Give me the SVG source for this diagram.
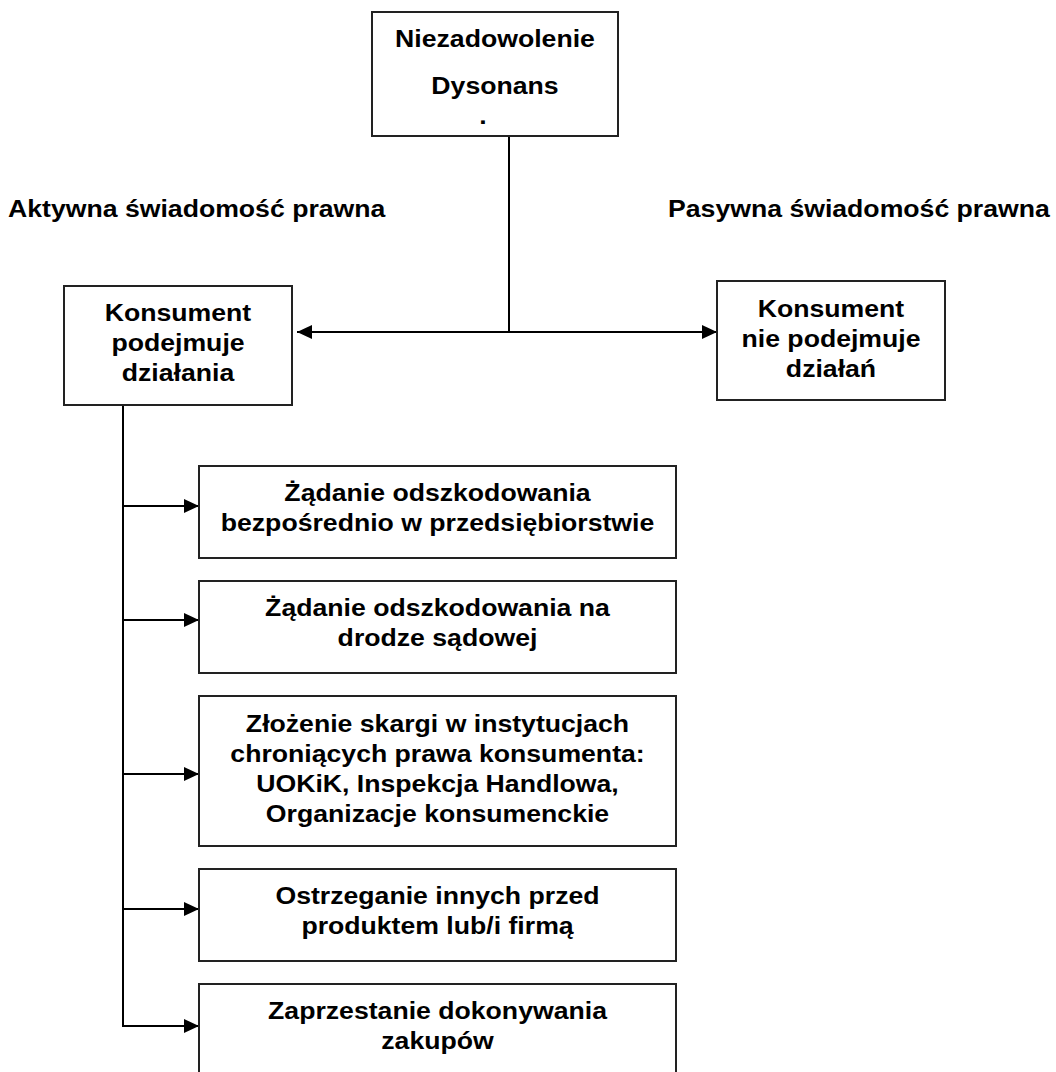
<svg xmlns="http://www.w3.org/2000/svg" width="1056" height="1072" viewBox="0 0 1056 1072">
<style>
  .box { fill: #ffffff; stroke: #222222; stroke-width: 2; }
  .ln { fill: none; stroke: #000000; stroke-width: 2; }
  .t { font-family: "Liberation Sans", Arial, sans-serif; font-weight: bold; font-size: 24px; fill: #000000; }
  .c { text-anchor: middle; }
</style>
<defs>
  <marker id="arr" markerUnits="userSpaceOnUse" markerWidth="16" markerHeight="16" refX="15" refY="7" orient="auto-start-reverse">
    <path d="M0,0 L15,7 L0,14 Z" fill="#000000"/>
  </marker>
</defs>
<rect width="1056" height="1072" fill="#ffffff"/>

<g id="connectors">
  <line class="ln" x1="509" y1="136" x2="509" y2="332"/>
  <line class="ln" x1="297" y1="332" x2="717" y2="332" marker-start="url(#arr)" marker-end="url(#arr)"/>
  <line class="ln" x1="123" y1="405" x2="123" y2="1027"/>
  <line class="ln" x1="122" y1="506" x2="199" y2="506" marker-end="url(#arr)"/>
  <line class="ln" x1="122" y1="620" x2="199" y2="620" marker-end="url(#arr)"/>
  <line class="ln" x1="122" y1="774" x2="199" y2="774" marker-end="url(#arr)"/>
  <line class="ln" x1="122" y1="909" x2="199" y2="909" marker-end="url(#arr)"/>
  <line class="ln" x1="122" y1="1026" x2="199" y2="1026" marker-end="url(#arr)"/>
</g>

<g id="label-active">
  <text class="t" transform="translate(8,0) scale(1.11,1)" x="0" y="217">Aktywna świadomość prawna</text>
</g>
<g id="label-passive">
  <text class="t" transform="translate(668,0) scale(1.11,1)" x="0" y="217">Pasywna świadomość prawna</text>
</g>

<g id="node-top">
  <rect class="box" x="372" y="12" width="246" height="124"/>
  <text class="t c" transform="translate(495,0) scale(1.11,1)"><tspan x="0" y="47">Niezadowolenie</tspan><tspan x="0" y="94">Dysonans</tspan></text>
  <text class="t c" transform="translate(483,0) scale(1.11,1)" x="0" y="124">.</text>
</g>

<g id="node-active">
  <rect class="box" x="64" y="286" width="228" height="119"/>
  <text class="t c" transform="translate(178,0) scale(1.11,1)"><tspan x="0" y="321">Konsument</tspan><tspan x="0" y="351">podejmuje</tspan><tspan x="0" y="381">działania</tspan></text>
</g>

<g id="node-passive">
  <rect class="box" x="717" y="281" width="228" height="119"/>
  <text class="t c" transform="translate(831,0) scale(1.11,1)"><tspan x="0" y="317">Konsument</tspan><tspan x="0" y="347">nie podejmuje</tspan><tspan x="0" y="377">działań</tspan></text>
</g>

<g id="node-1">
  <rect class="box" x="199" y="466" width="477" height="92"/>
  <text class="t c" transform="translate(437.5,0) scale(1.11,1)"><tspan x="0" y="501">Żądanie odszkodowania</tspan><tspan x="0" y="531">bezpośrednio w przedsiębiorstwie</tspan></text>
</g>

<g id="node-2">
  <rect class="box" x="199" y="581" width="477" height="92"/>
  <text class="t c" transform="translate(437.5,0) scale(1.11,1)"><tspan x="0" y="616">Żądanie odszkodowania na</tspan><tspan x="0" y="646">drodze sądowej</tspan></text>
</g>

<g id="node-3">
  <rect class="box" x="199" y="696" width="477" height="150"/>
  <text class="t c" transform="translate(437.5,0) scale(1.11,1)"><tspan x="0" y="732">Złożenie skargi w instytucjach</tspan><tspan x="0" y="762">chroniących prawa konsumenta:</tspan><tspan x="0" y="792">UOKiK, Inspekcja Handlowa,</tspan><tspan x="0" y="822">Organizacje konsumenckie</tspan></text>
</g>

<g id="node-4">
  <rect class="box" x="199" y="869" width="477" height="92"/>
  <text class="t c" transform="translate(437.5,0) scale(1.11,1)"><tspan x="0" y="904">Ostrzeganie innych przed</tspan><tspan x="0" y="934">produktem lub/i firmą</tspan></text>
</g>

<g id="node-5">
  <rect class="box" x="199" y="984" width="477" height="92"/>
  <text class="t c" transform="translate(437.5,0) scale(1.11,1)"><tspan x="0" y="1019">Zaprzestanie dokonywania</tspan><tspan x="0" y="1049">zakupów</tspan></text>
</g>
</svg>
